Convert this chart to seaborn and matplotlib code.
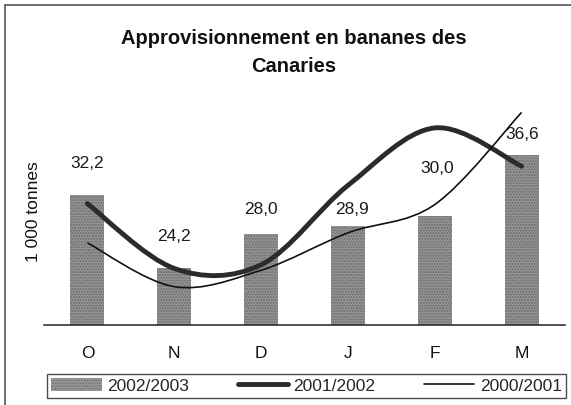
import numpy as np
import pandas as pd
import matplotlib
matplotlib.use("Agg")
import matplotlib.pyplot as plt
import seaborn as sns
from matplotlib.path import Path
from matplotlib.patches import PathPatch, Patch, Rectangle
from matplotlib.lines import Line2D

# ---- data ----
months = ["O", "N", "D", "J", "F", "M"]
s_2002_2003 = [32.2, 24.2, 28.0, 28.9, 30.0, 36.6]
s_2001_2002 = [31.3, 24.2, 24.6, 33.3, 39.6, 35.4]
s_2000_2001 = [27.0, 22.2, 24.0, 28.1, 31.2, 41.3]
series_names = ["2002/2003", "2001/2002", "2000/2001"]
title = "Approvisionnement en bananes des\nCanaries"
ylabel = "1 000 tonnes"

# label offsets above bar tops (pixels) - styling only
label_dy_px = [32, 32, 24, 16, 47, 21]
label_dx_px = [0, 0, 0, 4, 2, 1]

sns.set_style("white")
plt.rcParams["font.family"] = ["Liberation Sans", "DejaVu Sans"]

W, H = 571, 405
fig = plt.figure(figsize=(W / 100, H / 100), dpi=100)
ax = fig.add_axes([44 / W, 1 - 325 / H, (565 - 44) / W, (325 - 106) / H])

df = pd.DataFrame({"month": months, "value": s_2002_2003})
sns.barplot(data=df, x="month", y="value", color="#969696", width=0.39,
            saturation=1, ax=ax, zorder=1)
plt.rcParams["hatch.color"] = "#5a5a5a"
plt.rcParams["hatch.linewidth"] = 0.6
for p in ax.patches:
    p.set_hatch("......")
    p.set_edgecolor("#6a6a6a")
    p.set_linewidth(0)

def smooth_path(vals):
    pts = np.column_stack([np.arange(len(vals), dtype=float), np.asarray(vals, float)])
    n = len(pts)
    verts = [tuple(pts[0])]
    codes = [Path.MOVETO]
    for i in range(n - 1):
        p0 = pts[max(i - 1, 0)]
        p1 = pts[i]
        p2 = pts[i + 1]
        p3 = pts[min(i + 2, n - 1)]
        c1 = p1 + (p2 - p0) / 6.0
        c2 = p2 - (p3 - p1) / 6.0
        verts += [tuple(c1), tuple(c2), tuple(p2)]
        codes += [Path.CURVE4] * 3
    return Path(verts, codes)

thick = PathPatch(smooth_path(s_2001_2002), fill=False, edgecolor="#2b2b2b",
                  lw=3.5, capstyle="round", transform=ax.transData, zorder=3)
thin = PathPatch(smooth_path(s_2000_2001), fill=False, edgecolor="#111111",
                 lw=1.2, capstyle="butt", transform=ax.transData, zorder=4)
ax.add_patch(thick)
ax.add_patch(thin)

for i, v in enumerate(s_2002_2003):
    ax.annotate(f"{v:.1f}".replace(".", ","), xy=(i, v),
                xytext=(label_dx_px[i] * 0.72, label_dy_px[i] * 0.72),
                textcoords="offset points", ha="center", va="center",
                fontsize=12.5, color="#1a1a1a", zorder=5)

ax.set_ylim(18, 42)
ax.set_xlim(-0.5, 5.5)
ax.set_yticks([])
ax.set_xlabel("")
ax.set_ylabel("")
for s in ["top", "right", "left"]:
    ax.spines[s].set_visible(False)
ax.spines["bottom"].set_color("#222222")
ax.spines["bottom"].set_linewidth(1.1)
ax.set_xticks(range(len(months)))
ax.set_xticklabels(months, fontsize=12.5, color="#111111")
ax.tick_params(axis="x", which="major", length=0, pad=15)
ax.set_xticks(np.arange(-0.5, len(months), 1.0), minor=True)
ax.tick_params(axis="x", which="minor", length=4, width=1.0, direction="out",
               color="#222222")

fig.text(33 / W, 1 - 212 / H, ylabel, rotation=90, ha="center", va="center",
         fontsize=12.5, color="#111111")
fig.text(294 / W, 1 - 52 / H, title, ha="center", va="center",
         fontsize=14.5, fontweight="bold", linespacing=1.6, color="#111111")

handles = [
    Patch(facecolor="#969696", hatch="......", edgecolor="#6a6a6a", linewidth=0),
    Line2D([0], [0], color="#2b2b2b", lw=3.5),
    Line2D([0], [0], color="#111111", lw=1.2),
]
leg = fig.legend(handles, series_names, loc="lower left",
                 bbox_to_anchor=(47 / W, 1 - 398 / H, (566 - 47) / W, 30 / H),
                 ncol=3, mode="expand", fontsize=12.5, frameon=True,
                 fancybox=False, handlelength=2.9, handleheight=0.8,
                 handletextpad=0.3, borderaxespad=0, borderpad=0.25,
                 columnspacing=1.5)
leg.get_frame().set_edgecolor("#222222")
leg.get_frame().set_linewidth(1.0)

border = Rectangle((5 / W, -0.05), 1.1, 1 - 5 / H + 0.05, transform=fig.transFigure,
                   fill=False, edgecolor="#555555", lw=1.2, zorder=0)
fig.patches.append(border)

fig.savefig("out.png", dpi=100)
